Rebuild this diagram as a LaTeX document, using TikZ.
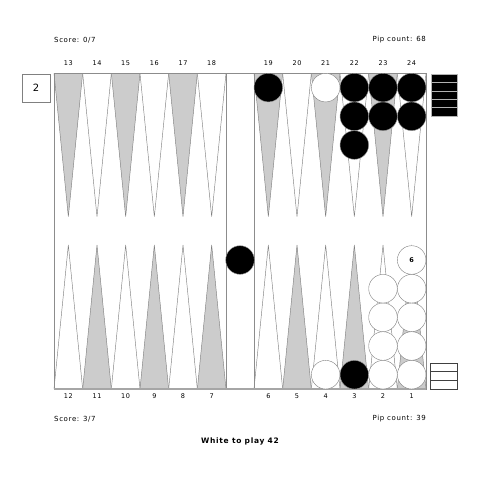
\documentclass[tikz,border=0pt]{standalone}
\usepackage{fontspec}
\setmainfont[LetterSpace=9]{DejaVu Sans}
\usetikzlibrary{positioning}

\begin{document}
\begin{tikzpicture}[
        x=1pt, y=-1pt,
        frame/.style={draw=black!45, line width=0.6pt},
        darkpt/.style={draw=black!50, fill=black!20, line width=0.45pt},
        lightpt/.style={draw=black!50, fill=white, line width=0.45pt},
        blackchk/.style={draw=black!40, fill=black, line width=0.4pt},
        whitechk/.style={draw=black!50, fill=white, line width=0.4pt},
        infotext/.style={font=\fontsize{7}{8}\selectfont, inner sep=0pt},
        ptnum/.style={font=\fontsize{6.5}{7}\selectfont, inner sep=0pt}
    ]
        \useasboundingbox (0,0) rectangle (480,480);

        % Points
        \foreach \h in {54,254} {
            \foreach \i/\topst/\botst in {0/darkpt/lightpt, 1/lightpt/darkpt, 2/darkpt/lightpt, 3/lightpt/darkpt, 4/darkpt/lightpt, 5/lightpt/darkpt} {
                \path[\topst] (\h+\i*28.667,73.3) -- (\h+\i*28.667+28.667,73.3) -- (\h+\i*28.667+14.333,216.7) -- cycle;
                \path[\botst] (\h+\i*28.667,389) -- (\h+\i*28.667+28.667,389) -- (\h+\i*28.667+14.333,245) -- cycle;
            }
        }

        % Board and bar
        \draw[frame] (54,73.3) rectangle (426,389);
        \draw[frame] (226,73.3) -- (226,389);
        \draw[frame] (254,73.3) -- (254,389);
        \draw[draw=black!35, line width=1.2pt] (54,389) -- (426,389);

        % Point numbers
        \foreach \i in {0,...,5} {
            \pgfmathtruncatemacro{\ntl}{13+\i}
            \pgfmathtruncatemacro{\ntr}{19+\i}
            \pgfmathtruncatemacro{\nbl}{12-\i}
            \pgfmathtruncatemacro{\nbr}{6-\i}
            \node[ptnum] (pt\ntl) at (68.333+\i*28.667,63) {\ntl};
            \node[ptnum] (pt\ntr) at (268.333+\i*28.667,63) {\ntr};
            \node[ptnum] (pt\nbl) at (68.333+\i*28.667,396) {\nbl};
            \node[ptnum] (pt\nbr) at (268.333+\i*28.667,396) {\nbr};
        }

        % Black checkers
        \foreach \cx/\cy in {268.333/87.6, 354.333/87.6, 354.333/116.3, 354.333/145, 383/87.6, 383/116.3, 411.667/87.6, 411.667/116.3, 354.333/374.7, 240/260} {
            \draw[blackchk] (\cx,\cy) circle (14.3);
        }

        % White checkers
        \foreach \cx/\cy in {325.667/87.6, 325.667/374.7, 383/374.7, 383/346, 383/317.3, 383/288.7, 411.667/374.7, 411.667/346, 411.667/317.3, 411.667/288.7} {
            \draw[whitechk] (\cx,\cy) circle (14.3);
        }
        \draw[whitechk] (411.667,260) circle (14.3);
        \node[font=\fontsize{6.5}{7}\selectfont\bfseries, inner sep=0pt] (stack1) at (411.667,260) {6};

        % Borne off
        \foreach \k in {0,...,4} {
            \draw[fill=black, draw=black!30, line width=0.5pt] (431,74+\k*8.4) rectangle (457.5,82.4+\k*8.4);
        }
        \foreach \k in {0,...,2} {
            \draw[fill=white, draw=black!75, line width=0.6pt] (430.5,363+\k*8.7) rectangle (457.5,371.7+\k*8.7);
        }

        % Cube
        \node[draw=black!50, line width=0.5pt, minimum size=28.5pt, inner sep=0pt, font=\fontsize{10}{12}\selectfont] (cube) at (36,88) {2};

        % Texts
        \node[infotext, anchor=west] (scoretop) at (54,40) {Score: 0/7};
        \node[infotext, anchor=east] (piptop) at (426,40) {Pip count: 68};
        \node[infotext, anchor=west] (scorebot) at (54,419) {Score: 3/7};
        \node[infotext, anchor=east] (pipbot) at (426,419) {Pip count: 39};
        \node[infotext, font=\fontsize{7.5}{8}\selectfont\bfseries] (turn) at (240,441) {White to play 42};
    \end{tikzpicture}
\end{document}
